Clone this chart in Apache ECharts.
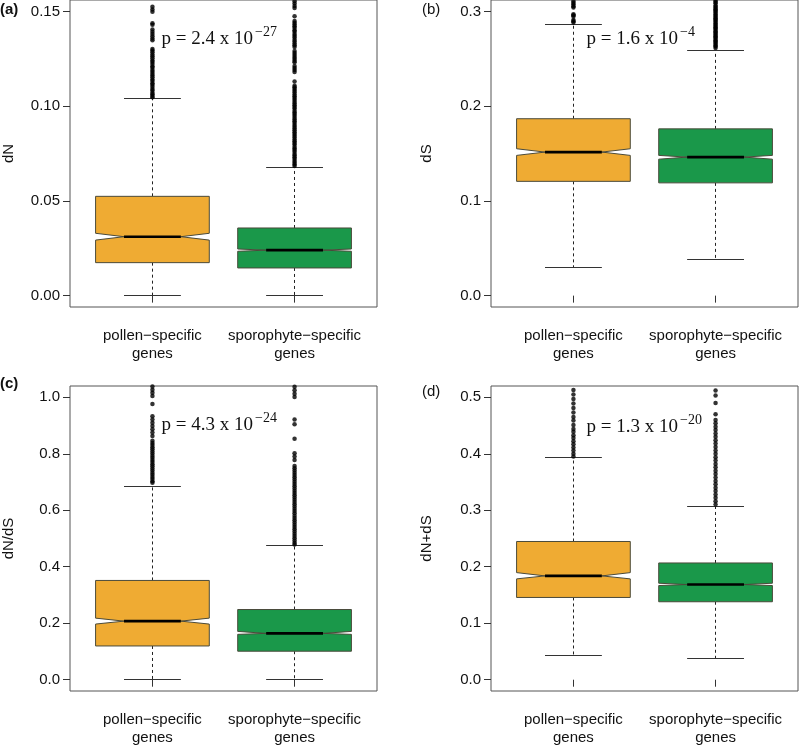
<!DOCTYPE html>
<html><head><meta charset="utf-8">
<script src="https://cdn.jsdelivr.net/npm/echarts@6/dist/echarts.min.js"></script>
<style>html,body{margin:0;padding:0;background:#fff}#c{width:799px;height:747px}</style>
</head><body><div id="c"></div>
<script>
// ---------------- DATA ----------------
const categories = ['pollen\u2212specific\ngenes', 'sporophyte\u2212specific\ngenes'];
const panelTags = ['(a)', '(b)', '(c)', '(d)'];
const yNames = ['dN', 'dS', 'dN/dS', 'dN+dS'];
const pMantissa = ['p = 2.4 x 10', 'p = 1.6 x 10', 'p = 4.3 x 10', 'p = 1.3 x 10'];
const pExponent = ['\u221227', '\u22124', '\u221224', '\u221220'];

const yTicksA = [0, 0.05, 0.10, 0.15];
const yTicksB = [0, 0.1, 0.2, 0.3];
const yTicksC = [0, 0.2, 0.4, 0.6, 0.8, 1.0];
const yTicksD = [0, 0.1, 0.2, 0.3, 0.4, 0.5];
const yDecimals = [2, 1, 1, 1];
const yLimits = [[0, 0.15], [0, 0.3], [0, 1.0], [0, 0.5]];

// stats: [lowerWhisker, Q1, notchLow, median, notchHigh, Q3, upperWhisker]
const dN_pollen = [0.0, 0.0174, 0.0293, 0.0311, 0.0329, 0.0524, 0.1041];
const dN_sporo  = [0.0, 0.0146, 0.0234, 0.0240, 0.0246, 0.0357, 0.0675];
const dS_pollen = [0.0295, 0.1206, 0.1480, 0.1515, 0.1550, 0.1867, 0.2858];
const dS_sporo  = [0.0386, 0.1190, 0.1440, 0.1462, 0.1480, 0.1760, 0.2590];
const dNdS_pollen = [0.0, 0.1195, 0.1970, 0.2074, 0.2180, 0.3515, 0.6830];
const dNdS_sporo  = [0.0, 0.1009, 0.1606, 0.1640, 0.1710, 0.2485, 0.4745];
const dNpS_pollen = [0.043, 0.1456, 0.1785, 0.1838, 0.1896, 0.2447, 0.3933];
const dNpS_sporo  = [0.037, 0.1380, 0.1667, 0.1685, 0.1708, 0.2067, 0.3058];

// outliers
const dN_pollen_out = [0.1525, 0.1510, 0.1498, 0.1437, 0.1429, 0.1404, 0.1392, 0.1381, 0.1369, 0.1357, 0.1348,
  0.1302, 0.1293, 0.1284, 0.1272, 0.1263, 0.1252, 0.1241, 0.1233, 0.1222, 0.1211, 0.1203, 0.1191, 0.1182, 0.1171,
  0.1162, 0.1153, 0.1141, 0.1132, 0.1121, 0.1113, 0.1102, 0.1091, 0.1082, 0.1071, 0.1063, 0.1054, 0.1047];
const dN_sporo_out = [0.1553, 0.1541, 0.1528, 0.1518, 0.1474, 0.1449, 0.1440, 0.1431, 0.1421, 0.1412, 0.1401,
  0.1392, 0.1380, 0.1371, 0.1362, 0.1350, 0.1341, 0.1330, 0.1321, 0.1312, 0.1291, 0.1280, 0.1270, 0.1259, 0.1250,
  0.1240, 0.1232, 0.1212, 0.1201, 0.1190, 0.1180, 0.1130, 0.1108, 0.1099, 0.1090, 0.1081, 0.1072, 0.1061, 0.1052,
  0.1043, 0.1034, 0.1023, 0.1014, 0.1005, 0.0996, 0.0987, 0.0976, 0.0967, 0.0958, 0.0949, 0.0938, 0.0929, 0.0920,
  0.0911, 0.0900, 0.0891, 0.0882, 0.0873, 0.0862, 0.0853, 0.0844, 0.0835, 0.0824, 0.0815, 0.0806, 0.0797, 0.0786,
  0.0777, 0.0768, 0.0759, 0.0748, 0.0739, 0.0730, 0.0721, 0.0710, 0.0701, 0.0692, 0.0684];
const dS_pollen_out = [0.3105, 0.3088, 0.3072, 0.3055, 0.3040, 0.2970, 0.2958, 0.2946, 0.2908, 0.2895, 0.2882];
const dS_sporo_out = [0.3112, 0.3098, 0.3085, 0.3062, 0.3050, 0.3036, 0.3022, 0.3010, 0.2996, 0.2983, 0.2968,
  0.2955, 0.2941, 0.2928, 0.2914, 0.2901, 0.2887, 0.2872, 0.2860, 0.2846, 0.2832, 0.2819, 0.2805, 0.2791, 0.2778,
  0.2764, 0.2750, 0.2737, 0.2723, 0.2710, 0.2696, 0.2682, 0.2669, 0.2655, 0.2641, 0.2628, 0.2614];
const dNdS_pollen_out = [1.038, 1.027, 1.016, 1.005, 0.976, 0.933, 0.921, 0.910, 0.898, 0.887, 0.875, 0.863,
  0.846, 0.838, 0.831, 0.823, 0.816, 0.808, 0.801, 0.793, 0.786, 0.778, 0.771, 0.763, 0.756, 0.748, 0.741, 0.733,
  0.726, 0.718, 0.711, 0.703, 0.697];
const dNdS_sporo_out = [1.037, 1.025, 1.013, 1.001, 0.921, 0.905, 0.853, 0.802, 0.790, 0.778, 0.757, 0.749, 0.741,
  0.733, 0.725, 0.717, 0.709, 0.701, 0.693, 0.685, 0.677, 0.669, 0.661, 0.653, 0.645, 0.637, 0.629, 0.621, 0.613,
  0.605, 0.597, 0.589, 0.581, 0.573, 0.565, 0.557, 0.549, 0.541, 0.533, 0.525, 0.517, 0.509, 0.501, 0.493, 0.485, 0.479];
const dNpS_pollen_out = [0.521, 0.513, 0.505, 0.497, 0.489, 0.481, 0.473, 0.465, 0.459, 0.451, 0.444, 0.439, 0.433,
  0.428, 0.422, 0.417, 0.411, 0.406, 0.400, 0.395];
const dNpS_sporo_out = [0.512, 0.503, 0.490, 0.470, 0.460, 0.454, 0.448, 0.442, 0.436, 0.430, 0.424, 0.418, 0.412,
  0.406, 0.400, 0.394, 0.388, 0.382, 0.376, 0.370, 0.364, 0.358, 0.352, 0.346, 0.340, 0.334, 0.328, 0.322, 0.316, 0.310];

// ---------------- BUILD ----------------
const panels = [
  {stats: [dN_pollen, dN_sporo], outs: [dN_pollen_out, dN_sporo_out], ticks: yTicksA},
  {stats: [dS_pollen, dS_sporo], outs: [dS_pollen_out, dS_sporo_out], ticks: yTicksB},
  {stats: [dNdS_pollen, dNdS_sporo], outs: [dNdS_pollen_out, dNdS_sporo_out], ticks: yTicksC},
  {stats: [dNpS_pollen, dNpS_sporo], outs: [dNpS_pollen_out, dNpS_sporo_out], ticks: yTicksD}
];
const boxColors = ['#EFAB33', '#1A984A'];
const gridPos = [
  {left: 69, top: 0, width: 308, height: 307},
  {left: 491, top: 0, width: 307, height: 307},
  {left: 69, top: 386, width: 308, height: 307},
  {left: 491, top: 386, width: 307, height: 307}
];
const nameGaps = [54, 57, 54, 57];
const FONT = 'Liberation Sans, Arial, Helvetica, sans-serif';
const SERIF = 'Liberation Serif, Times New Roman, serif';

function crisp(v) { return Math.round(v - 0.5) + 0.5; }

function renderBox(params, api) {
  const x = api.value(0);
  const s = [1, 2, 3, 4, 5, 6, 7].map(k => api.value(k));
  const [lw, q1, nlo, med, nhi, q3, hw] = s;
  const C = (dx, v) => api.coord([x + dx, v]);
  const hwid = 0.4, nf = 0.2, cap = 0.2;
  const fill = api.visual('color');
  const cx = crisp(C(0, 0)[0]);
  const children = [];
  // whiskers (dashed)
  children.push({type: 'line', shape: {x1: cx, y1: C(0, q3)[1], x2: cx, y2: C(0, hw)[1]},
    style: {stroke: '#222', lineWidth: 1, lineDash: [3, 3]}});
  children.push({type: 'line', shape: {x1: cx, y1: C(0, q1)[1], x2: cx, y2: C(0, lw)[1]},
    style: {stroke: '#222', lineWidth: 1, lineDash: [3, 3]}});
  // caps
  [hw, lw].forEach(v => {
    const y = crisp(C(0, v)[1]);
    children.push({type: 'line', shape: {x1: C(-cap, v)[0], y1: y, x2: C(cap, v)[0], y2: y},
      style: {stroke: '#333', lineWidth: 1}});
  });
  // notched box polygon
  const pts = [C(-hwid, q1), C(hwid, q1), C(hwid, nlo), C(nf, med), C(hwid, nhi), C(hwid, q3),
               C(-hwid, q3), C(-hwid, nhi), C(-nf, med), C(-hwid, nlo)];
  children.push({type: 'polygon', shape: {points: pts},
    style: {fill: fill, stroke: '#4a4a3a', lineWidth: 1}});
  // median
  const my = C(0, med)[1];
  children.push({type: 'line', shape: {x1: C(-nf, med)[0], y1: my, x2: C(nf, med)[0], y2: my},
    style: {stroke: '#000', lineWidth: 2.6}});
  return {type: 'group', children: children};
}

const grids = [], xAxes = [], yAxes = [], series = [], graphics = [];
panels.forEach((p, i) => {
  const g = gridPos[i];
  grids.push(Object.assign({show: true, borderColor: '#555', borderWidth: 1, backgroundColor: 'transparent'}, g));
  xAxes.push({
    type: 'value', gridIndex: i, min: 0.42, max: 2.58,
    splitLine: {show: false}, axisLine: {show: false},
    axisTick: {show: true, customValues: [1, 2], length: 7, lineStyle: {color: '#333'}},
    axisLabel: {show: true, customValues: [1, 2], margin: 20, lineHeight: 18,
      formatter: v => categories[Math.round(v) - 1], fontSize: 15, fontFamily: FONT, color: '#111'}
  });
  const lim = yLimits[i];
  const pad = (lim[1] - lim[0]) * 0.04;
  yAxes.push({
    type: 'value', gridIndex: i, min: lim[0] - pad, max: lim[1] + pad,
    splitLine: {show: false}, axisLine: {show: false},
    name: yNames[i], nameLocation: 'middle', nameGap: nameGaps[i], nameRotate: 90,
    nameTextStyle: {fontSize: 15, fontFamily: FONT, color: '#111'},
    axisTick: {show: true, customValues: p.ticks, length: 7, lineStyle: {color: '#333'}},
    axisLabel: {show: true, customValues: p.ticks, margin: 10, fontSize: 15, fontFamily: FONT, color: '#111',
      formatter: v => v.toFixed(yDecimals[i])}
  });
  series.push({
    type: 'custom', xAxisIndex: i, yAxisIndex: i, clip: true,
    renderItem: renderBox,
    encode: {x: 0, y: [1, 2, 3, 4, 5, 6, 7]},
    data: p.stats.map((st, k) => ({value: [k + 1].concat(st), itemStyle: {color: boxColors[k]}})),
    z: 2, silent: true
  });
  const outData = [];
  p.outs.forEach((arr, k) => arr.forEach(v => outData.push([k + 1, v])));
  series.push({
    type: 'scatter', xAxisIndex: i, yAxisIndex: i, clip: true,
    symbol: 'circle', symbolSize: 4.5, itemStyle: {color: '#000'},
    data: outData, z: 3, silent: true
  });
});

// panel tags and p-values (text annotations)
const tagPos = [[0, 11, 'bold'], [422, 11, 'normal'], [0, 385, 'bold'], [422, 393, 'normal']];
const pPos = [[253, 39], [678, 39], [253, 425], [678, 427]];
panelTags.forEach((t, i) => {
  graphics.push({type: 'text', left: tagPos[i][0], top: tagPos[i][1] - 9,
    style: {text: t, fontSize: 15, fontWeight: tagPos[i][2], fontFamily: FONT, fill: '#111'}});
  graphics.push({type: 'text', x: pPos[i][0], y: pPos[i][1],
    style: {text: pMantissa[i], fontSize: 19, fontFamily: SERIF, fill: '#111', align: 'right', verticalAlign: 'middle'}});
  graphics.push({type: 'text', x: pPos[i][0] + 2, y: pPos[i][1] - 7,
    style: {text: pExponent[i], fontSize: 14, fontFamily: SERIF, fill: '#111', align: 'left', verticalAlign: 'middle'}});
});

const chart = echarts.init(document.getElementById('c'), null, {renderer: 'canvas'});
chart.setOption({
  animation: false,
  backgroundColor: '#fff',
  grid: grids, xAxis: xAxes, yAxis: yAxes, series: series, graphic: graphics
});
</script>
</body></html>
